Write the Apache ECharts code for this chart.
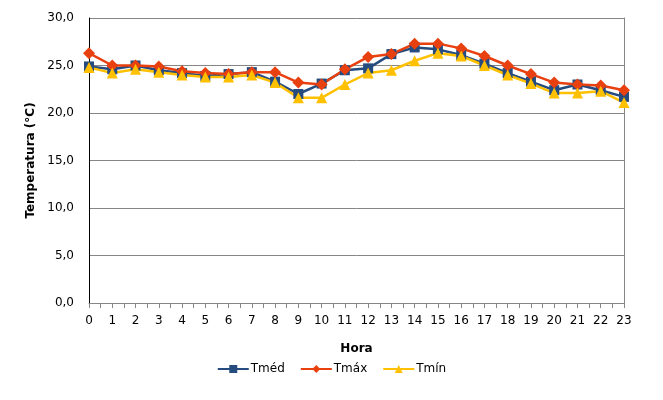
<!DOCTYPE html>
<html>
<head>
<meta charset="utf-8">
<script src="https://cdn.jsdelivr.net/npm/echarts@6/dist/echarts.min.js"></script>
<style>
  html, body { margin: 0; padding: 0; background: #fff; }
  #chart { width: 663px; height: 400px; }
</style>
</head>
<body>
<div id="chart"></div>
<script>
// Hourly temperature profile: mean, max and min per hour of day.
const HOURS = [0, 1, 2, 3, 4, 5, 6, 7, 8, 9, 10, 11, 12, 13, 14, 15, 16, 17, 18, 19, 20, 21, 22, 23];
const T_MED = [24.9, 24.6, 25.0, 24.5, 24.2, 23.9, 24.1, 24.3, 23.3, 22.0, 23.1, 24.5, 24.7, 26.2, 26.9, 26.7, 26.1, 25.2, 24.2, 23.3, 22.4, 23.0, 22.4, 21.7];
const T_MAX = [26.3, 25.0, 25.0, 24.9, 24.4, 24.2, 24.1, 24.3, 24.3, 23.2, 23.0, 24.6, 25.9, 26.2, 27.3, 27.3, 26.8, 26.0, 25.0, 24.1, 23.2, 23.0, 22.9, 22.4];
const T_MIN = [24.8, 24.2, 24.6, 24.3, 24.0, 23.8, 23.8, 24.0, 23.2, 21.6, 21.6, 23.0, 24.2, 24.5, 25.5, 26.3, 26.0, 25.0, 24.0, 23.1, 22.1, 22.1, 22.3, 21.1];
const Y_TICKS = [0, 5, 10, 15, 20, 25, 30];

const FONT = 'DejaVu Sans';
const GRID_GRAY = '#868686';

const pairs = vals => HOURS.map((h, i) => [h, vals[i]]);

function lineSeries(name, vals, color, symbol, size) {
  return {
    name,
    type: 'line',
    data: pairs(vals),
    symbol,
    symbolSize: size,
    color,
    lineStyle: { color, width: 2.5 },
    itemStyle: { color },
  };
}

const chart = echarts.init(document.getElementById('chart'), null, { renderer: 'canvas' });
chart.setOption({
  animation: false,
  textStyle: { fontFamily: FONT },
  grid: { left: 89, right: 39, top: 18, bottom: 97, containLabel: false },
  legend: {
    top: 358,
    left: 'center',
    itemWidth: 31,
    itemHeight: 10,
    itemGap: 15,
    textStyle: { fontFamily: FONT, fontSize: 12, color: '#000', padding: [0, 0, 0, -3] },
    data: ['Tméd', 'Tmáx', 'Tmín'],
  },
  xAxis: {
    type: 'value',
    min: 0,
    max: 23,
    interval: 1,
    name: 'Hora',
    nameLocation: 'middle',
    nameGap: 40,
    nameTextStyle: { fontFamily: FONT, fontSize: 12, fontWeight: 'bold', color: '#000' },
    axisLine: { lineStyle: { color: GRID_GRAY, width: 1 } },
    axisTick: { show: true, inside: false, length: 5, lineStyle: { color: GRID_GRAY } },
    minorTick: { show: true, splitNumber: 2, length: 5, lineStyle: { color: GRID_GRAY } },
    axisLabel: { fontFamily: FONT, fontSize: 12, color: '#000', margin: 12 },
    splitLine: { show: false },
  },
  yAxis: [{
    type: 'value',
    min: 0,
    max: 30,
    interval: 5,
    name: 'Temperatura (°C)',
    nameLocation: 'middle',
    nameGap: 47,
    nameTextStyle: { fontFamily: FONT, fontSize: 12, fontWeight: 'bold', color: '#000' },
    axisLine: { show: true, lineStyle: { color: '#000', width: 1 } },
    axisTick: { show: false },
    axisLabel: {
      fontFamily: FONT, fontSize: 12, color: '#000', margin: 15,
      formatter: v => Y_TICKS.includes(v) ? v.toFixed(1).replace('.', ',') : '',
    },
    splitLine: { show: true, lineStyle: { color: GRID_GRAY, width: 1 } },
  }, {
    type: 'value',
    position: 'right',
    min: 0,
    max: 30,
    interval: 5,
    axisLine: { show: true, lineStyle: { color: GRID_GRAY, width: 1 } },
    axisTick: { show: false },
    axisLabel: { show: false },
    splitLine: { show: false },
  }],
  series: [
    lineSeries('Tméd', T_MED, '#254B7F', 'rect', 10),
    lineSeries('Tmáx', T_MAX, '#E8400F', 'diamond', 12),
    lineSeries('Tmín', T_MIN, '#FFC000', 'triangle', 11),
  ],
});
</script>
</body>
</html>
